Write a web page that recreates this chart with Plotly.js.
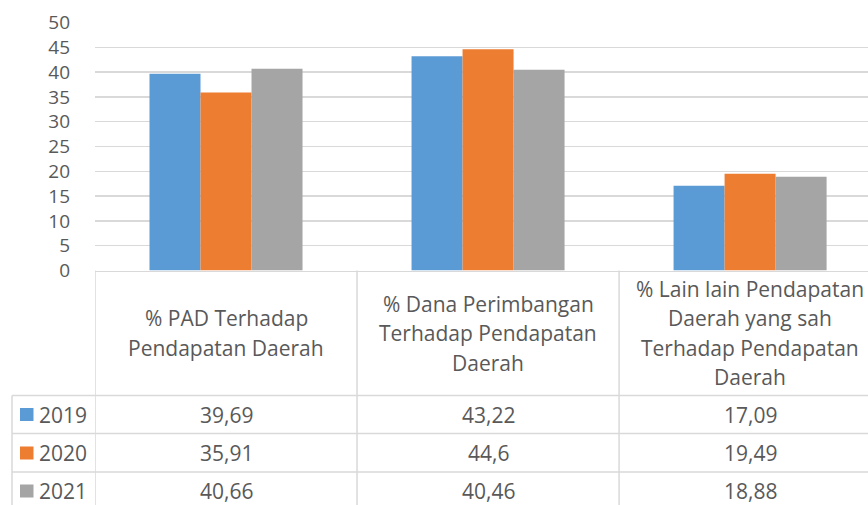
<!DOCTYPE html>
<html>
<head>
<meta charset="utf-8">
<script src="https://cdn.plot.ly/plotly-3.0.1.min.js"></script>
<style>
  body { margin: 0; padding: 0; background: #fff; }
  #chart { width: 868px; height: 505px; }
</style>
</head>
<body>
<div id="chart"></div>
<script>
// categories, split into the lines shown in the table header
var categoryLines = [
  ["% PAD Terhadap", "Pendapatan Daerah"],
  ["% Dana Perimbangan", "Terhadap Pendapatan", "Daerah"],
  ["% Lain lain Pendapatan", "Daerah yang sah", "Terhadap Pendapatan", "Daerah"]
];
var categories = categoryLines.map(l => l.join(" "));

var years = ["2019", "2020", "2021"];
var values2019 = [39.69, 43.22, 17.09];
var values2020 = [35.91, 44.6, 19.49];
var values2021 = [40.66, 40.46, 18.88];
var seriesValues = [values2019, values2020, values2021];
var colors = ["#5B9BD5", "#ED7D31", "#A5A5A5"];

var W = 868, H = 505;
function py(p) { return 1 - p / H; }
function px(p) { return p / W; }

var textColor = "#595959";
var lineColor = "#D9D9D9";
var font = "Open Sans, Noto Sans, sans-serif";
var fs = 21;

var data = years.map((y, i) => ({
  x: categories,
  y: seriesValues[i],
  name: y,
  type: "bar",
  marker: { color: colors[i] }
}));

// table grid
var shapes = [];
// column separators, at category boundaries
[-0.5, 0.5, 1.5].forEach(b => {
  shapes.push({ type: "line", xref: "x", yref: "paper", x0: b, x1: b,
    y0: py(270.5), y1: py(H + 5), line: { color: lineColor, width: 1.5 } });
});
// left edge of legend column
shapes.push({ type: "line", xref: "paper", yref: "paper", x0: px(12), x1: px(12),
  y0: py(395.5), y1: py(H + 5), line: { color: lineColor, width: 1.5 } });
// row separators
[395.5, 433.5, 472].forEach(r => {
  shapes.push({ type: "line", xref: "paper", yref: "paper", x0: px(12), x1: 1,
    y0: py(r), y1: py(r), line: { color: lineColor, width: 1.5 } });
});

var rowCenters = [414.5, 453, 491];
var annotations = [];

// header text
categoryLines.forEach((lines, i) => {
  var n = lines.length;
  lines.forEach((t, j) => {
    annotations.push({ xref: "x", yref: "paper", x: i,
      y: py(333 + (j - (n - 1) / 2) * 29.5), text: t, showarrow: false,
      xanchor: "center", yanchor: "middle",
      font: { family: font, size: fs, color: textColor } });
  });
});

// values and legend keys
years.forEach((y, r) => {
  var yc = py(rowCenters[r]);
  shapes.push({ type: "rect", xref: "paper", yref: "paper",
    x0: px(20), x1: px(33.5), y0: py(rowCenters[r] - 6.5), y1: py(rowCenters[r] + 6.5),
    fillcolor: colors[r], line: { width: 0 } });
  annotations.push({ xref: "paper", yref: "paper", x: px(37), y: yc, text: y,
    showarrow: false, xanchor: "left", yanchor: "middle",
    font: { family: font, size: fs, color: textColor } });
  seriesValues[r].forEach((v, i) => {
    annotations.push({ xref: "x", yref: "paper", x: i, y: yc,
      text: String(v).replace(".", ","), showarrow: false,
      xanchor: "center", yanchor: "middle",
      font: { family: font, size: fs, color: textColor } });
  });
});

var layout = {
  width: W,
  height: H,
  margin: { l: 0, r: 0, t: 0, b: 0 },
  paper_bgcolor: "#fff",
  plot_bgcolor: "#fff",
  showlegend: false,
  barmode: "group",
  bargap: 0.416,
  bargroupgap: 0,
  font: { family: font, color: textColor },
  xaxis: {
    domain: [px(95), 1],
    range: [-0.5, 2.45],
    showticklabels: false,
    ticks: "",
    showgrid: false,
    showline: true,
    linecolor: lineColor,
    linewidth: 1.5,
    zeroline: false,
    fixedrange: true
  },
  yaxis: {
    domain: [py(270.5), py(22.5)],
    range: [0, 50],
    dtick: 5,
    tick0: 0,
    ticks: "",
    showgrid: true,
    gridcolor: lineColor,
    gridwidth: 1.5,
    zeroline: false,
    showline: false,
    ticklabelstandoff: 24,
    tickfont: { family: font, size: 19, color: textColor },
    fixedrange: true
  },
  shapes: shapes,
  annotations: annotations
};

Plotly.newPlot("chart", data, layout, { displayModeBar: false, staticPlot: true });
</script>
</body>
</html>
